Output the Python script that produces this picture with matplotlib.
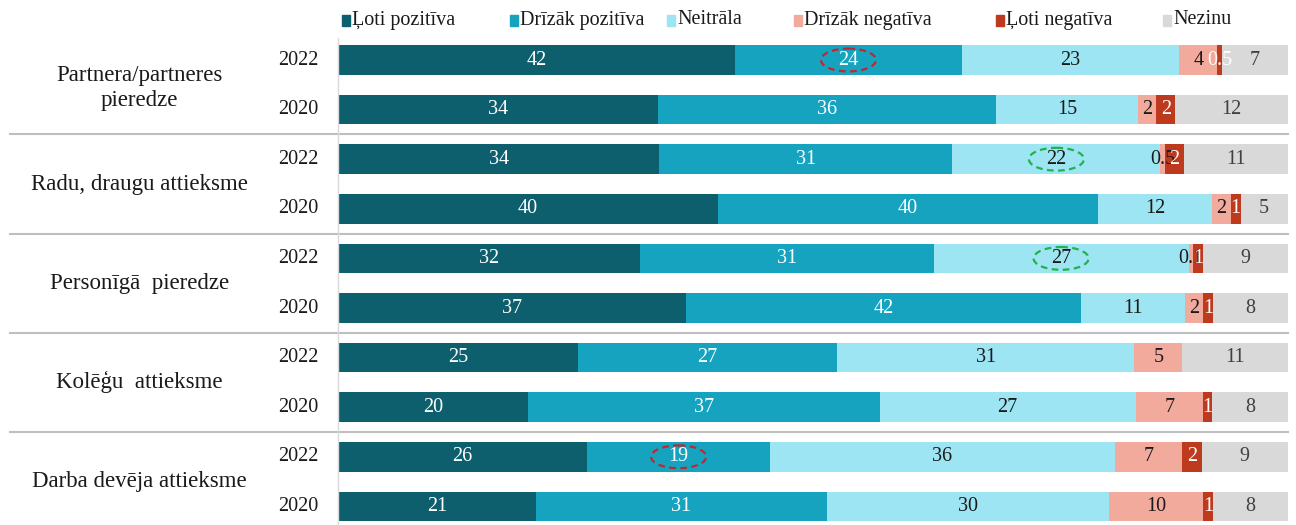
import matplotlib
matplotlib.use("Agg")
import matplotlib.pyplot as plt
from matplotlib.patches import Ellipse, Rectangle
import numpy as np

plt.rcParams['font.family'] = ['Liberation Serif', 'DejaVu Serif']

groups = ["Partnera/partneres\npieredze", "Radu, draugu attieksme", "Personīgā  pieredze",
          "Kolēģu  attieksme", "Darba devēja attieksme"]
years = ["2022", "2020"]
series = ["Ļoti pozitīva", "Drīzāk pozitīva", "Neitrāla", "Drīzāk negatīva", "Ļoti negatīva", "Nezinu"]
colors = ["#0e5f6d", "#16a3bf", "#9de5f3", "#f2aa9c", "#bd3a1e", "#d9d9d9"]
text_colors = ["white", "white", "#1a1a1a", "#1a1a1a", "white", "#404040"]

# rows: group x year (2022, 2020)
values = [
    [42, 24, 23, 4, 0.5, 7],
    [34, 36, 15, 2, 2, 12],
    [34, 31, 22, 0.5, 2, 11],
    [40, 40, 12, 2, 1, 5],
    [32, 31, 27, 0.5, 1, 9],
    [37, 42, 11, 2, 1, 8],
    [25, 27, 31, 5, 0, 11],
    [20, 37, 27, 7, 1, 8],
    [26, 19, 36, 7, 2, 9],
    [21, 31, 30, 10, 1, 8],
]
labels = [
    ["42", "24", "23", "4", "0.5", "7"],
    ["34", "36", "15", "2", "2", "12"],
    ["34", "31", "22", "0.5", "2", "11"],
    ["40", "40", "12", "2", "1", "5"],
    ["32", "31", "27", "0.1", "1", "9"],
    ["37", "42", "11", "2", "1", "8"],
    ["25", "27", "31", "5", "", "11"],
    ["20", "37", "27", "7", "1", "8"],
    ["26", "19", "36", "7", "2", "9"],
    ["21", "31", "30", "10", "1", "8"],
]
# highlighted cells: (row, series, color)
highlights = [(0, 1, "#c0282d"), (2, 2, "#22b14c"), (4, 2, "#22b14c"), (8, 1, "#c0282d")]
legend_x_px = [346, 514, 671, 798, 1000, 1167]

W, H = 1296, 525
fig = plt.figure(figsize=(W / 100, H / 100), dpi=100)
ax_left, ax_right = 338 / W, 1288 / W
ax_top, ax_bot = 38, 525
ax = fig.add_axes([ax_left, 1 - ax_bot / H, ax_right - ax_left, (ax_bot - ax_top) / H])

vals = np.array(values, dtype=float)
norm = vals / vals.sum(axis=1, keepdims=True) * 100
n = len(values)
ypos = np.arange(n)
left = np.zeros(n)
for j, s in enumerate(series):
    ax.barh(ypos, norm[:, j], left=left, height=0.6, color=colors[j], label=s, edgecolor='none')
    for i in range(n):
        if labels[i][j]:
            ax.text(left[i] + norm[i, j] / 2, ypos[i], labels[i][j], ha='center', va='center',
                    fontsize=14.5, color=text_colors[j])
    left += norm[:, j]

cum = np.cumsum(norm, axis=1)
for (r, s, c) in highlights:
    start = cum[r, s] - norm[r, s]
    cx = start + norm[r, s] / 2
    ax.add_patch(Ellipse((cx, r), width=5.8, height=0.46, fill=False, edgecolor=c,
                         linestyle=(0, (3, 2)), linewidth=1.6, zorder=5))

ax.set_xlim(0, 100)
ax.set_ylim(9.375, -0.444)
ax.set_xticks([])
ax.set_yticks([])
for sp in ["top", "right", "bottom"]:
    ax.spines[sp].set_visible(False)
ax.spines["left"].set_color("#d9d9d9")
ax.spines["left"].set_linewidth(1)

# year labels
for i in range(n):
    ax.text(-2.1, ypos[i], years[i % 2], ha='right', va='center', fontsize=14.5, color='#1a1a1a')

# group labels
for g, name in enumerate(groups):
    yc = 2 * g + 0.5 + (0.06 if "\n" in name else 0)
    ax.text(-20.9, yc, name, ha='center', va='center', fontsize=16.5, color='#1a1a1a',
            linespacing=1.25)

# separators
for g in range(1, len(groups)):
    y = 2 * g - 0.5
    ax.plot([-34.5, 100], [y, y], color="#bfbfbf", linewidth=1.5, clip_on=False)

# legend (manual, at top)
ly = 1 - 20 / H
for s, c, xp in zip(series, colors, legend_x_px):
    fig.patches.append(Rectangle(((xp - 4) / W, ly - 5.5 / H), 8 / W, 11 / H, color=c,
                                 transform=fig.transFigure, figure=fig))
    fig.text((xp + 6) / W, ly, s, ha='left', va='center', fontsize=14.5, color='#1a1a1a')

fig.savefig("out.png", dpi=100)
